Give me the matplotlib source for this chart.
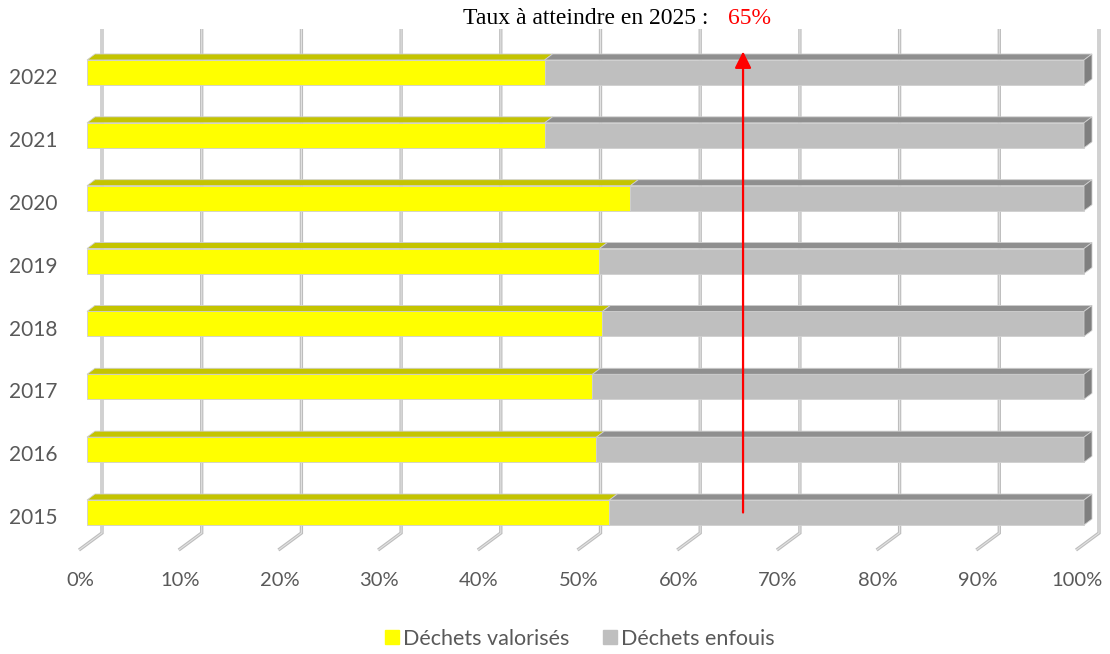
import matplotlib
matplotlib.use("Agg")
import matplotlib.pyplot as plt
from matplotlib.patches import Polygon, Rectangle
from matplotlib.lines import Line2D

years = ["2015", "2016", "2017", "2018", "2019", "2020", "2021", "2022"]
valorises = [52.4, 51.1, 50.7, 51.7, 51.4, 54.5, 45.9, 45.9]
enfouis = [100 - v for v in valorises]
xticks = [0, 10, 20, 30, 40, 50, 60, 70, 80, 90, 100]
xticklabels = [f"{t}%" for t in xticks]
target = 65
title_text = "Taux à atteindre en 2025 :"
target_text = "65%"
legend_labels = ["Déchets valorisés", "Déchets enfouis"]

YELLOW_FRONT = "#ffff00"
YELLOW_TOP = "#c4c400"
GRAY_FRONT = "#bfbfbf"
GRAY_TOP = "#8f8f8f"
GRAY_SIDE = "#7f7f7f"
TEXT = "#595959"
FONT = ["Lato", "DejaVu Sans"]

W, H = 1110, 654
fig = plt.figure(figsize=(W / 100, H / 100), dpi=100)
ax = fig.add_axes([0, 0, 1, 1])
px_per_unit_x = 9.97
px_per_row = 62.86
x0_px = 87
row0_px = 512.5
ax.set_xlim(-x0_px / px_per_unit_x, (W - x0_px) / px_per_unit_x)
ax.set_ylim((row0_px - H) / px_per_row, row0_px / px_per_row)
ax.axis("off")

dx = 8 / px_per_unit_x      # depth offset in x (data units)
dy = 6 / px_per_row         # depth offset in y (data units)
bh = 25 / px_per_row        # bar front height
back_off = 15 / px_per_unit_x
front_off = -8 / px_per_unit_x
wall_top = (row0_px - 29) / px_per_row
wall_bot = (row0_px - 533) / px_per_row
floor_front = (row0_px - 550) / px_per_row

# gridlines on back wall + floor ticks
for t, lab in zip(xticks, xticklabels):
    xb = t + back_off
    xf = t + front_off
    for lw, c in [(2.4, "#bdbdbd"), (0.8, "#e2e2e2")]:
        ax.plot([xb, xb, xf], [wall_top, wall_bot, floor_front], color=c, lw=lw,
                solid_capstyle="butt", solid_joinstyle="miter", zorder=1)
    ax.text(t + front_off + 0.1, (row0_px - 581) / px_per_row, lab, ha="center", va="center",
            fontsize=14.5, color=TEXT, family=FONT)

edge = dict(edgecolor="#cfcfcf", linewidth=0.6)
for i, (yv, v, g) in enumerate(zip(years, valorises, enfouis)):
    yb = i - bh / 2
    yt = i + bh / 2
    ax.add_patch(Rectangle((0, yb), v, bh, facecolor=YELLOW_FRONT, zorder=3, **edge))
    ax.add_patch(Polygon([(0, yt), (v, yt), (v + dx, yt + dy), (dx, yt + dy)],
                         closed=True, facecolor=YELLOW_TOP, zorder=3, **edge))
    ax.add_patch(Rectangle((v, yb), g, bh, facecolor=GRAY_FRONT, zorder=3, **edge))
    ax.add_patch(Polygon([(v, yt), (v + g, yt), (v + g + dx, yt + dy), (v + dx, yt + dy)],
                         closed=True, facecolor=GRAY_TOP, zorder=3, **edge))
    xr = v + g
    ax.add_patch(Polygon([(xr, yb), (xr, yt), (xr + dx, yt + dy), (xr + dx, yb + dy)],
                         closed=True, facecolor=GRAY_SIDE, zorder=3, **edge))
    ax.text(-3.0, i - 0.09, yv, ha="right", va="center", fontsize=15, color=TEXT, family=FONT)

# target arrow
ax.annotate("", xy=(target + dx, len(years) - 1 + bh / 2 + dy + 0.04),
            xytext=(target + dx, 0),
            arrowprops=dict(arrowstyle="-|>,head_length=1.0,head_width=0.5", color="red",
                            lw=1.6, shrinkA=0, shrinkB=0), zorder=5)

serif = ["Liberation Serif", "DejaVu Serif"]
fig.text(708 / W, 1 - 18 / H, title_text, ha="right", va="center", fontsize=17,
         family=serif, color="black")
fig.text(728 / W, 1 - 18 / H, target_text, ha="left", va="center", fontsize=17,
         family=serif, color="red")

handles = [Line2D([], [], marker="s", ls="none", markersize=10, markerfacecolor=c,
                  markeredgecolor=c) for c in [YELLOW_FRONT, GRAY_FRONT]]
leg = fig.legend(handles, legend_labels, loc="center", bbox_to_anchor=(580 / W, 1 - 639 / H),
                 ncol=2, frameon=False, handlelength=0.6, handletextpad=0.2,
                 columnspacing=1.6, prop={"family": FONT, "size": 15.5})
for t in leg.get_texts():
    t.set_color(TEXT)

fig.savefig("out.png", dpi=100)
